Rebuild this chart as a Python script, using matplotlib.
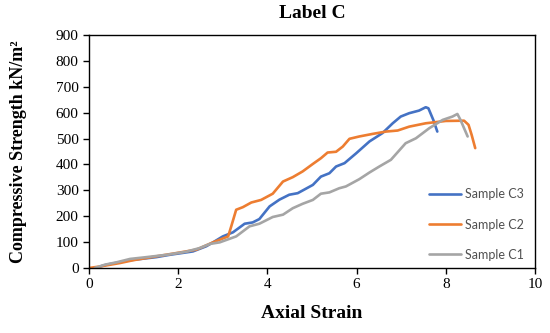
import matplotlib
matplotlib.use("Agg")
import matplotlib.pyplot as plt

# Sample C3 (blue)
c3_strain = [0.25, 0.4, 0.92, 1.51, 1.81, 2.33, 2.63, 2.78, 3.0, 3.23, 3.49, 3.67, 3.82,
             4.05, 4.27, 4.49, 4.68, 5.02, 5.2, 5.39, 5.54, 5.73, 5.99, 6.29, 6.58, 6.81,
             6.99, 7.18, 7.4, 7.55, 7.61, 7.72, 7.81]
c3_stress = [6, 13, 30, 42, 51, 64, 84, 99, 122, 138, 171, 176, 189,
             238, 264, 283, 289, 321, 353, 366, 392, 405, 443, 489, 521, 559,
             585, 598, 608, 621, 617, 572, 527]

# Sample C2 (orange)
c2_strain = [0, 0.25, 0.69, 0.99, 1.51, 2.04, 2.41, 2.78, 3.12, 3.19, 3.3, 3.45, 3.64,
             3.86, 4.12, 4.35, 4.57, 4.79, 5.02, 5.2, 5.35, 5.54, 5.69, 5.84, 6.06, 6.36,
             6.66, 6.92, 7.18, 7.55, 8.0, 8.41, 8.51, 8.58, 8.66]
c2_stress = [0, 6, 19, 30, 45, 60, 71, 99, 122, 161, 225, 235, 253,
             263, 287, 334, 351, 373, 402, 424, 446, 449, 469, 499, 508, 518,
             527, 531, 546, 559, 568, 569, 553, 514, 463]

# Sample C1 (grey)
c1_strain = [0.13, 0.36, 0.62, 0.92, 1.29, 1.74, 2.18, 2.48, 2.71, 2.93, 3.3, 3.6, 3.82,
             4.12, 4.35, 4.57, 4.79, 5.02, 5.2, 5.39, 5.61, 5.76, 6.06, 6.29, 6.51, 6.77,
             7.1, 7.33, 7.63, 7.93, 8.15, 8.26, 8.33, 8.41, 8.49]
c1_stress = [0, 13, 22, 35, 42, 51, 63, 77, 93, 99, 122, 161, 171,
             197, 206, 231, 248, 263, 287, 292, 308, 315, 343, 369, 392, 418,
             482, 501, 540, 572, 585, 595, 572, 540, 508]

x_ticks = [0, 2, 4, 6, 8, 10]
y_ticks = list(range(0, 1000, 100))

serif = "Liberation Serif"

fig = plt.figure(figsize=(5.5, 3.33), dpi=100)
ax = fig.add_axes([0.1618, 0.1952, 0.8109, 0.6997])

line_kw = dict(linewidth=1.9, solid_joinstyle="round", solid_capstyle="round")
ax.plot(c3_strain, c3_stress, color="#4472C4", label="Sample C3", **line_kw)
ax.plot(c2_strain, c2_stress, color="#ED7D31", label="Sample C2", **line_kw)
ax.plot(c1_strain, c1_stress, color="#A5A5A5", label="Sample C1", **line_kw)

ax.set_xlim(0, 10)
ax.set_ylim(0, 900)
ax.set_xticks(x_ticks)
ax.set_yticks(y_ticks)
ax.tick_params(direction="out", length=4.5, width=1, labelsize=11, pad=3)
for lab in ax.get_xticklabels() + ax.get_yticklabels():
    lab.set_family(serif)
for s in ax.spines.values():
    s.set_linewidth(1.0)
    s.set_color("black")

ax.set_title("Label C", fontfamily=serif, fontweight="bold", fontsize=14, pad=12)
ax.set_xlabel("Axial Strain", fontfamily=serif, fontweight="bold", fontsize=14, labelpad=10)
ax.set_ylabel("Compressive Strength kN/m²", fontfamily=serif, fontweight="bold",
              fontsize=13, labelpad=21)

leg = ax.legend(loc="lower right", bbox_to_anchor=(1.0, -0.017), frameon=False,
                prop={"family": "Lato", "size": 9}, handlelength=2.6, handletextpad=0.3,
                labelspacing=1.45)
for t in leg.get_texts():
    t.set_color("#505050")

fig.savefig("out.png", dpi=100)
